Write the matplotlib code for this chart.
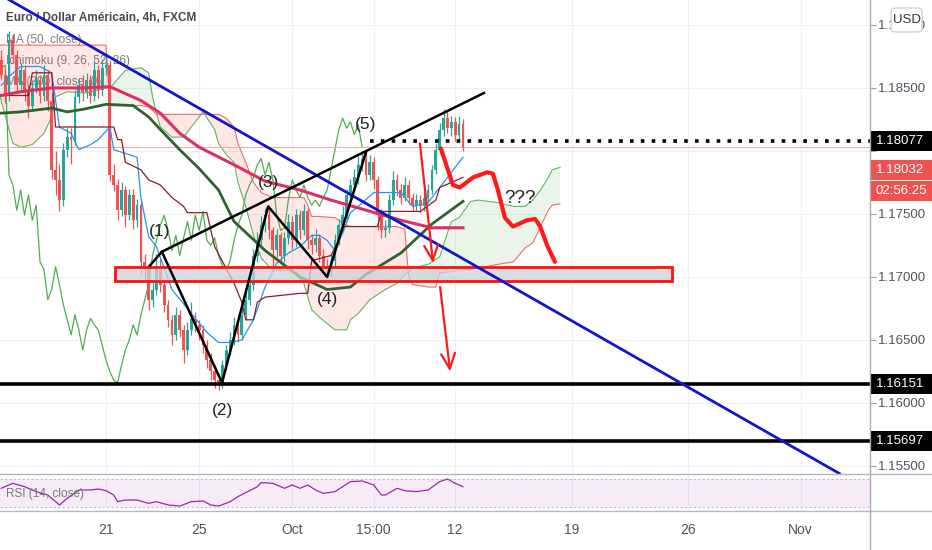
import numpy as np
import matplotlib
matplotlib.use('Agg')
import matplotlib.pyplot as plt
from matplotlib.patches import Rectangle, FancyBboxPatch
from matplotlib.lines import Line2D
from matplotlib.transforms import blended_transform_factory

plt.rcParams['font.family'] = ['Liberation Sans Narrow', 'Liberation Sans', 'DejaVu Sans']

#%%
# Candles, EUR/USD 4h (bar 0 = 21 Sep 00:00)
first_bar = -27
first_open = 1.1872
closes = [1.1860, 1.1844, 1.1888, 1.1876, 1.1852, 1.1864, 1.1848, 1.1836, 1.1850, 1.1856,
          1.1844, 1.1860, 1.1840, 1.1785, 1.1777, 1.1761, 1.1801, 1.1811, 1.1809, 1.1843,
          1.1852, 1.1847, 1.1856, 1.1844, 1.1864, 1.1848, 1.1866, 1.1868, 1.1781, 1.1773,
          1.1753, 1.1769, 1.1749, 1.1765, 1.1745, 1.1757, 1.1712, 1.1706, 1.1682, 1.1690,
          1.1708, 1.1694, 1.1678, 1.1666, 1.1654, 1.1670, 1.1658, 1.1642, 1.1658, 1.1667,
          1.1662, 1.1658, 1.1646, 1.1634, 1.1625, 1.1618, 1.1616, 1.1630, 1.1642, 1.1650,
          1.1662, 1.1654, 1.1670, 1.1682, 1.1694, 1.1717, 1.1729, 1.1741, 1.1749, 1.1737,
          1.1721, 1.1733, 1.1717, 1.1731, 1.1744, 1.1729, 1.1749, 1.1737, 1.1752, 1.1729,
          1.1725, 1.1731, 1.1717, 1.1709, 1.1705, 1.1713, 1.1729, 1.1741, 1.1749, 1.1765,
          1.1773, 1.1779, 1.1789, 1.1794, 1.1781, 1.1791, 1.1777, 1.1749, 1.1737, 1.1739,
          1.1761, 1.1777, 1.1769, 1.1763, 1.1773, 1.1763, 1.1757, 1.1761, 1.1756, 1.1763,
          1.1769, 1.1785, 1.1801, 1.1817, 1.1826, 1.1818, 1.1823, 1.1813, 1.1821, 1.18032]
highs = [1.1880, 1.1864, 1.1895, 1.1892, 1.1880, 1.1870, 1.1868, 1.1852, 1.1856, 1.1864,
         1.1860, 1.1868, 1.1864, 1.1846, 1.1800, 1.1790, 1.1806, 1.1818, 1.1818, 1.1848,
         1.1858, 1.1860, 1.1862, 1.1860, 1.1872, 1.1868, 1.1872, 1.1878, 1.1872, 1.1790,
         1.1778, 1.1775, 1.1772, 1.1770, 1.1770, 1.1762, 1.1760, 1.1718, 1.1710, 1.1696,
         1.1718, 1.1715, 1.1698, 1.1682, 1.1670, 1.1676, 1.1674, 1.1662, 1.1664, 1.1680,
         1.1672, 1.1666, 1.1662, 1.1650, 1.1640, 1.1630, 1.1624, 1.1634, 1.1646, 1.1656,
         1.1668, 1.1666, 1.1676, 1.1688, 1.1700, 1.1722, 1.1736, 1.1748, 1.1755, 1.1756,
         1.1740, 1.1738, 1.1736, 1.1736, 1.1750, 1.1748, 1.1754, 1.1753, 1.1758, 1.1755,
         1.1734, 1.1738, 1.1734, 1.1722, 1.1714, 1.1718, 1.1734, 1.1746, 1.1756, 1.1770,
         1.1778, 1.1786, 1.1796, 1.1800, 1.1800, 1.1797, 1.1795, 1.1780, 1.1754, 1.1745,
         1.1766, 1.1784, 1.1782, 1.1774, 1.1779, 1.1777, 1.1767, 1.1766, 1.1765, 1.1768,
         1.1774, 1.1789, 1.1806, 1.1822, 1.1833, 1.1832, 1.1828, 1.1827, 1.1828, 1.1825]
lows = [1.1856, 1.1838, 1.1840, 1.1870, 1.1846, 1.1848, 1.1840, 1.1826, 1.1832, 1.1846,
        1.1838, 1.1840, 1.1832, 1.1778, 1.1765, 1.1752, 1.1756, 1.1795, 1.1790, 1.1805,
        1.1838, 1.1840, 1.1842, 1.1838, 1.1840, 1.1842, 1.1844, 1.1860, 1.1776, 1.1768,
        1.1745, 1.1748, 1.1740, 1.1745, 1.1738, 1.1740, 1.1702, 1.1698, 1.1674, 1.1676,
        1.1686, 1.1688, 1.1672, 1.1660, 1.1646, 1.1650, 1.1652, 1.1632, 1.1638, 1.1654,
        1.1656, 1.1650, 1.1640, 1.1628, 1.1618, 1.1612, 1.1610, 1.1612, 1.1626, 1.1638,
        1.1646, 1.1648, 1.1650, 1.1666, 1.1678, 1.1690, 1.1712, 1.1724, 1.1736, 1.1730,
        1.1708, 1.1716, 1.1710, 1.1712, 1.1726, 1.1722, 1.1724, 1.1730, 1.1733, 1.1722,
        1.1718, 1.1720, 1.1712, 1.1703, 1.1700, 1.1701, 1.1709, 1.1725, 1.1736, 1.1745,
        1.1760, 1.1768, 1.1774, 1.1784, 1.1776, 1.1777, 1.1770, 1.1737, 1.1731, 1.1732,
        1.1735, 1.1757, 1.1764, 1.1758, 1.1760, 1.1758, 1.1752, 1.1753, 1.1751, 1.1752,
        1.1759, 1.1766, 1.1782, 1.1798, 1.1812, 1.1814, 1.1812, 1.1808, 1.1808, 1.1800]

#%%
# Indicators: (bar index, price)
ma50_x = [-27, -22, -14, -10, -6, 0, 7, 11, 14, 19, 24, 29, 33, 41, 50, 57, 63, 67, 76, 84, 92]
ma50_y = [1.1830, 1.1831, 1.1834, 1.1831, 1.1833, 1.1837, 1.1836, 1.1827, 1.1817, 1.1801, 1.1786,
          1.1769, 1.1744, 1.1721, 1.1700, 1.1690, 1.1692, 1.1702, 1.1719, 1.1742, 1.1760]

ma200_x = [-27, -22, -14, -6, 1, 9, 14, 19, 24, 33, 41, 50, 58, 67, 76, 84, 92]
ma200_y = [1.1844, 1.1847, 1.1850, 1.1850, 1.1851, 1.1840, 1.1830, 1.1814, 1.1803, 1.1789,
           1.1776, 1.1769, 1.1761, 1.1753, 1.1745, 1.1739, 1.1739]

conv_x = [-27, -25, -22, -17, -14, -12, -9, -7, -4, -2, 1, 2, 8, 9, 11, 13, 17, 22, 26, 29,
          32, 35, 38, 41, 44, 47, 50, 53, 55, 57, 59, 61, 63, 65, 69, 76, 79, 83, 84, 88, 92]
conv_y = [1.1852, 1.1859, 1.1867, 1.1867, 1.1862, 1.1819, 1.1814, 1.1801, 1.1805, 1.1809,
          1.1819, 1.1801, 1.1795, 1.1763, 1.1732, 1.1724, 1.1690, 1.1671, 1.1656, 1.1648,
          1.1648, 1.1650, 1.1666, 1.1692, 1.1711, 1.1719, 1.1724, 1.1733, 1.1733, 1.1729,
          1.1721, 1.1735, 1.1751, 1.1756, 1.1767, 1.1767, 1.1756, 1.1759, 1.1763, 1.1779, 1.1795]

base_x = [-27, -20, -19, -14, -13, 2, 3, 4, 5, 9, 11, 14, 17, 20, 21, 26, 28, 33, 35, 36,
          38, 39, 41, 50, 52, 53, 58, 60, 61, 70, 71, 81, 85, 86, 92]
base_y = [1.1844, 1.1844, 1.1862, 1.1862, 1.1819, 1.1819, 1.1809, 1.1809, 1.1791, 1.1785,
          1.1777, 1.1773, 1.1763, 1.1756, 1.1751, 1.1751, 1.1724, 1.1695, 1.1680, 1.1666,
          1.1666, 1.1680, 1.1684, 1.1687, 1.1687, 1.1713, 1.1717, 1.1729, 1.1740, 1.1740,
          1.1752, 1.1752, 1.1761, 1.1771, 1.1779]

cloud_x = [-28, -25, -24, -22, -19, -16, -14, -13, -10, -5, 0, 1, 5, 9, 11, 12, 13, 14, 17, 20,
           22, 25, 28, 29, 31, 33, 34, 36, 38, 40, 43, 48, 51, 52, 53, 55, 59, 62, 63, 65,
           68, 72, 75, 77, 78, 79, 83, 85, 86, 88, 89, 91, 94, 96, 101, 105, 108, 110, 112, 114,
           115, 117]
span_a = [1.1851, 1.1817, 1.1806, 1.1803, 1.1805, 1.1814, 1.1827, 1.1843, 1.1847, 1.1846,
          1.1850, 1.1850, 1.1864, 1.1866, 1.1862, 1.1843, 1.1830, 1.1819, 1.1811, 1.1811,
          1.1819, 1.1831, 1.1817, 1.1806, 1.1797, 1.1791, 1.1775, 1.1756, 1.1733, 1.1715,
          1.1705, 1.1705, 1.1695, 1.1684, 1.1674, 1.1668, 1.1658, 1.1658, 1.1666, 1.1671,
          1.1682, 1.1690, 1.1695, 1.1702, 1.1704, 1.1707, 1.1710, 1.1714, 1.1716, 1.1735,
          1.1744, 1.1747, 1.1760, 1.1761, 1.1759, 1.1756, 1.1756, 1.1761, 1.1769, 1.1779,
          1.1785, 1.1787]
span_b = [1.1884, 1.1884, 1.1884, 1.1884, 1.1884, 1.1884, 1.1884, 1.1884, 1.1884, 1.1884,
          1.1884, 1.1836, 1.1836, 1.1836, 1.1835, 1.1832, 1.1829, 1.1829, 1.1829, 1.1829,
          1.1829, 1.1829, 1.1829, 1.1829, 1.1826, 1.1819, 1.1806, 1.1791, 1.1775, 1.1767,
          1.1763, 1.1763, 1.1763, 1.1757, 1.1748, 1.1748, 1.1747, 1.1741, 1.1740, 1.1740,
          1.1740, 1.1740, 1.1740, 1.1738, 1.1700, 1.1694, 1.1692, 1.1692, 1.1703, 1.1704,
          1.1704, 1.1706, 1.1706, 1.1707, 1.1710, 1.1712, 1.1723, 1.1727, 1.1740, 1.1753,
          1.1757, 1.1758]

rsi_x = [-27, -24, -21, -18, -15, -12, -10, -7, -4, -2, 0, 2, 3, 5, 8, 11, 13, 16, 19, 22,
         25, 27, 29, 32, 34, 36, 39, 40, 43, 46, 48, 50, 52, 54, 56, 59, 61, 63, 66, 69,
         71, 72, 75, 77, 80, 83, 86, 88, 90, 92]
rsi_y = [56.7, 63.8, 59.0, 51.9, 47.1, 32.9, 42.4, 54.3, 54.3, 55.7, 53.3, 47.1, 37.6, 40.0,
         40.0, 35.2, 37.6, 32.9, 31.4, 37.6, 38.6, 32.9, 31.4, 37.6, 44.8, 50.5, 59.0, 64.8,
         63.8, 56.7, 61.4, 56.7, 61.4, 54.3, 49.5, 51.9, 59.0, 66.2, 67.1, 61.4, 47.1, 47.1,
         56.7, 53.3, 51.9, 54.3, 66.2, 70.0, 63.8, 59.0]

#%%
# Drawings on the chart
wave_x = [11.3, 14.4, 29.9, 41.8, 57.0, 67.0]
wave_y = [1.1709, 1.1720, 1.1616, 1.1756, 1.1700, 1.1799]
wave_labels = ['(1)', '(2)', '(3)', '(4)', '(5)']
wave_label_x = [13.9, 29.9, 41.8, 57.0, 67.0]
wave_label_y = [1.1736, 1.1594, 1.1775, 1.1682, 1.1821]
upper_line_x = [14.4, 97.4]
upper_line_y = [1.1720, 1.1846]
blue_line_x = [-25, 189]
blue_line_y = [1.1920, 1.1544]
zone = (2.3, 145.9, 1.1697, 1.1708)
supports = [1.16151, 1.15697]
dotted_level = 1.18077
last_price = 1.18032
proj_x = [86.3, 87.9, 89.4, 91.2, 94.6, 98.2, 99.7, 101.0, 102.8, 104.9, 108.5, 110.6, 111.9, 113.7, 115.7]
proj_y = [1.1802, 1.1787, 1.1773, 1.1771, 1.1779, 1.1783, 1.1782, 1.1769, 1.1747, 1.1740,
          1.1745, 1.1746, 1.1740, 1.1725, 1.1712]
arrows = [((80.9, 1.1806), (84.3, 1.1711)), ((86.1, 1.1692), (88.7, 1.1625))]

price_ticks = [1.155, 1.160, 1.165, 1.170, 1.175, 1.180, 1.185, 1.190]
hidden_ticks = [1.180]  # covered by the price tags on the scale
time_ticks = [0, 24, 48, 69, 90, 120, 150, 179]
time_labels = ['21', '25', 'Oct', '15:00', '12', '19', '26', 'Nov']

#%%
W, H = 932, 550
fig = plt.figure(figsize=(W / 100, H / 100), dpi=100)
ax = fig.add_axes([0, 1 - 474 / H, 870 / W, 474 / H])
rsi_ax = fig.add_axes([0, 1 - 511 / H, 870 / W, 37 / H])
xlim = (-27.32, 196.9)

for a in (ax, rsi_ax):
    a.set_xlim(*xlim)
    for s in a.spines.values():
        s.set_visible(False)
    a.set_xticks(time_ticks)
    a.grid(True, axis='x', color='#eef0f3', lw=0.8)
    a.set_axisbelow(True)

ax.set_ylim(1.15436, 1.19198)
ax.yaxis.tick_right()
ax.set_yticks(price_ticks)
ax.set_yticklabels(['' if p in hidden_ticks else f'{p:.5f}' for p in price_ticks])
ax.tick_params(axis='y', length=4, width=0.8, color='#a0a3aa', pad=2, labelsize=9.5, labelcolor='#50535e')
ax.tick_params(axis='x', length=0, labelbottom=False)
ax.grid(True, axis='y', color='#eef0f3', lw=0.8)

# legend texts (under the candles)
ax.text(6 / 870, 1 - 18 / 474, 'Euro / Dollar Américain, 4h, FXCM', transform=ax.transAxes,
        fontsize=8.5, fontweight='bold', color='#4a4a4a', va='center', zorder=1)
for k, t in enumerate(['MA (50, close)', 'Ichimoku (9, 26, 52, 26)', 'MA (200, close, 0)']):
    ax.text(6 / 870, 1 - (40 + 21 * k) / 474, t, transform=ax.transAxes,
            fontsize=8.5, color='#7a7a7a', va='center', zorder=1)

# ichimoku cloud
cx = np.array(cloud_x)
sa = np.array(span_a)
sb = np.array(span_b)
ax.fill_between(cx, sa, sb, where=sa >= sb, interpolate=True, color='#4caf50', alpha=0.12, lw=0, zorder=2)
ax.fill_between(cx, sa, sb, where=sa < sb, interpolate=True, color='#f44336', alpha=0.12, lw=0, zorder=2)
ax.plot(cx, sa, color='#5cb860', lw=0.8, zorder=2)
ax.plot(cx, sb, color='#ef6b68', lw=0.8, zorder=2)

# candles
bars = np.arange(first_bar, first_bar + len(closes))
c = np.array(closes)
o = np.array([first_open] + closes[:-1])
hi = np.array(highs)
lo = np.array(lows)
col = np.where(c >= o, '#26a69a', '#ef5350')
ax.vlines(bars, lo, hi, colors=col, lw=0.9, zorder=4)
ax.bar(bars, np.maximum(np.abs(c - o), 0.00004), bottom=np.minimum(o, c), width=0.72,
       color=col, lw=0, zorder=4)

# lagging span = close shifted 26 bars back
ax.plot(bars - 26, c, color='#4caf50', lw=0.9, zorder=3)
ax.plot(conv_x, conv_y, color='#2196f3', lw=0.9, zorder=5)
ax.plot(base_x, base_y, color='#8b1c24', lw=0.9, zorder=5)
ax.plot(ma50_x, ma50_y, color='#2e6330', lw=2.0, zorder=5)
ax.plot(ma200_x, ma200_y, color='#dc2f68', lw=2.2, zorder=5)

# levels
ax.axhline(last_price, color='#f3a5a5', lw=0.7, zorder=3)
for p in supports:
    ax.axhline(p, color='black', lw=2.6, zorder=7)
ax.hlines(dotted_level, 68, xlim[1], colors='black', lw=2.6, linestyles=(0, (1, 2)), zorder=7)

# drawings
ax.add_patch(Rectangle((zone[0], zone[2]), zone[1] - zone[0], zone[3] - zone[2],
                       fc=(0.82, 0.82, 0.84, 0.75), ec='#ff1111', lw=2, zorder=7))
ax.plot(blue_line_x, blue_line_y, color='#1414c8', lw=2, zorder=8)
ax.plot(upper_line_x, upper_line_y, color='black', lw=1.8, zorder=8)
ax.plot(wave_x, wave_y, color='black', lw=1.8, zorder=8)
for t, x, y in zip(wave_labels, wave_label_x, wave_label_y):
    ax.text(x, y, t, ha='center', va='center', fontsize=12.5, color='#222222', zorder=9)
ax.plot(proj_x, proj_y, color='#ff1a1a', lw=3, solid_capstyle='round', solid_joinstyle='round', zorder=9)
for start, end in arrows:
    ax.annotate('', xy=end, xytext=start, zorder=9,
                arrowprops=dict(arrowstyle='->,head_length=1.1,head_width=0.5', color='#ff1a1a',
                                lw=1.6, shrinkA=0, shrinkB=0, mutation_scale=10))
ax.text(106.7, 1.1762, '???', ha='center', va='center', fontsize=13.5, color='#222222', zorder=9)

# RSI pane
rsi_ax.set_ylim(24.3, 77.1)
rsi_ax.set_yticks([])
rsi_ax.axhspan(30, 70, color='#9c27b0', alpha=0.09, lw=0)
for lvl in (30, 70):
    rsi_ax.axhline(lvl, color='#c9b3d9', lw=0.8, ls=(0, (2, 2)))
rsi_ax.plot(rsi_x, rsi_y, color='#9c27b0', lw=0.9, zorder=3)
rsi_ax.text(6 / 870, 0.45, 'RSI (14, close)', transform=rsi_ax.transAxes, fontsize=8.5,
            color='#7a7a7a', va='center')
rsi_ax.set_xticklabels(time_labels)
rsi_ax.tick_params(axis='x', length=0, pad=9, labelsize=10, labelcolor='#50535e')

# pane separators and price scale border
for yy in (474, 511):
    fig.add_artist(Line2D([0, 1], [1 - yy / H] * 2, transform=fig.transFigure, color='#b4b7bf', lw=1))
fig.add_artist(Line2D([870 / W] * 2, [0, 1], transform=fig.transFigure, color='#a8abb3', lw=1))

# price tags on the right scale
tr = blended_transform_factory(fig.transFigure, ax.transData)
half = 10 * (1.19198 - 1.15436) / 474
for p in [dotted_level] + supports:
    fig.add_artist(Rectangle((870 / W, p - half), 62 / W, 2 * half, transform=tr, fc='black', lw=0))
    fig.text(876 / W, p, f'{p:.5f}', transform=tr, color='white', fontsize=9.5, va='center')
for yc, t in [(170, f'{last_price:.5f}'), (191, '02:56:25')]:
    fig.add_artist(Rectangle((870 / W, 1 - (yc + 10) / H), 62 / W, 20.5 / H,
                             transform=fig.transFigure, fc='#ef5350', lw=0))
    fig.text(876 / W, 1 - yc / H, t, color='white', fontsize=9.5, va='center')

fig.add_artist(FancyBboxPatch((891 / W, 1 - 32 / H), 31 / W, 24 / H, transform=fig.transFigure,
                              boxstyle='round,pad=0,rounding_size=0.006', fc='white', ec='#cfd2d8', lw=1))
fig.text(906.5 / W, 1 - 20 / H, 'USD', ha='center', va='center', fontsize=9.5, color='#333333')

fig.savefig('out.png', dpi=100)
